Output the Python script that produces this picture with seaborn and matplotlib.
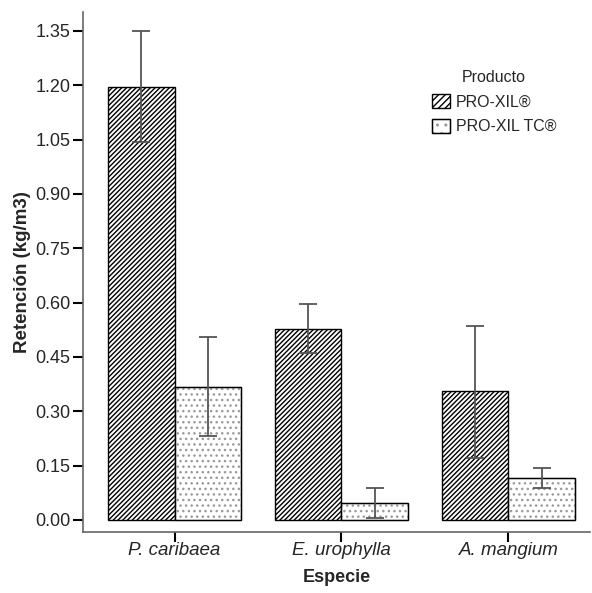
import numpy as np
import pandas as pd
import matplotlib
matplotlib.use("Agg")
from matplotlib import pyplot as plt
from matplotlib.patches import Patch, Rectangle
import seaborn as sns

# data
species = ["P. caribaea", "E. urophylla", "A. mangium"]
productos = ["PRO-XIL®", "PRO-XIL TC®"]

pro_xil_mean = [1.195, 0.527, 0.356]
pro_xil_lo = [1.044, 0.460, 0.171]
pro_xil_hi = [1.350, 0.596, 0.536]

tc_mean = [0.367, 0.047, 0.116]
tc_lo = [0.232, 0.006, 0.088]
tc_hi = [0.505, 0.088, 0.144]

yticks = [0.00, 0.15, 0.30, 0.45, 0.60, 0.75, 0.90, 1.05, 1.20, 1.35]

sns.set_style("ticks")
plt.rcParams["font.family"] = ["Liberation Sans", "DejaVu Sans"]
plt.rcParams["hatch.linewidth"] = 1.0

df = pd.DataFrame({
    "Especie": species * 2,
    "Producto": [productos[0]] * 3 + [productos[1]] * 3,
    "Retencion": pro_xil_mean + tc_mean,
})

fig = plt.figure(figsize=(5.92, 5.93), dpi=100)
ax = fig.add_axes([0.140, 0.103, 0.857, 0.877])

sns.barplot(
    data=df, x="Especie", y="Retencion", hue="Producto",
    order=species, hue_order=productos,
    palette=["white", "white"], width=0.794, errorbar=None,
    legend=False, ax=ax,
)

# hatch colour follows the edge colour, so the dotted bars get a grey edge
# and a black outline drawn on top
hatches = ["///////", "..."]
hatch_cols = ["black", "#9a9a9a"]
n = len(species)
bars = list(ax.patches[:2 * n])
for i, bar in enumerate(bars):
    h = i // n
    bar.set_edgecolor(hatch_cols[h])
    bar.set_linewidth(1.0)
    bar.set_hatch(hatches[h])
    if h == 1:
        ax.add_patch(Rectangle((bar.get_x(), bar.get_y()), bar.get_width(),
                               bar.get_height(), fill=False,
                               edgecolor="black", linewidth=1.0, zorder=bar.get_zorder() + 0.1))

# error bars, taken at the bar centres
lows = [pro_xil_lo, tc_lo]
highs = [pro_xil_hi, tc_hi]
means = [pro_xil_mean, tc_mean]
for h in range(2):
    xs = [bars[h * n + k].get_x() + bars[h * n + k].get_width() / 2 for k in range(n)]
    m = np.array(means[h])
    err = np.vstack([m - np.array(lows[h]), np.array(highs[h]) - m])
    ax.errorbar(xs, m, yerr=err, fmt="none", ecolor="#555555",
                elinewidth=1.3, capsize=6.5, capthick=1.3, zorder=5)

ax.set_ylim(-0.033, 1.4025)
ax.set_xlim(-0.549, 2.49)
ax.set_yticks(yticks)
ax.set_yticklabels([f"{v:.2f}" for v in yticks], fontsize=13)
ax.set_xticks(range(n))
ax.set_xticklabels(species, fontsize=13.5, style="italic")

ax.set_xlabel("Especie", fontsize=13, fontweight="bold", labelpad=7)
ax.set_ylabel("Retención (kg/m3)", fontsize=13.5, fontweight="bold", labelpad=3)

sns.despine(ax=ax)
for s in ["left", "bottom"]:
    ax.spines[s].set_color("#666666")
    ax.spines[s].set_linewidth(1.2)
ax.tick_params(axis="both", length=7, width=1.5, color="black",
               direction="out", pad=2)
ax.tick_params(axis="x", pad=0.5)

handles = [
    Patch(facecolor="white", edgecolor="black", hatch="/////"),
    (Patch(facecolor="white", edgecolor="#9a9a9a", hatch=".."),
     Patch(fill=False, edgecolor="black")),
]
fig.legend(handles=handles, labels=productos, title="Producto", loc="upper left",
           bbox_to_anchor=(418 / 592, 1 - 56 / 593), frameon=False,
           fontsize=11.5, title_fontsize=11.5, handlelength=1.1,
           handleheight=1.0, handletextpad=0.35, labelspacing=0.55)

fig.savefig("out.png", dpi=100)
